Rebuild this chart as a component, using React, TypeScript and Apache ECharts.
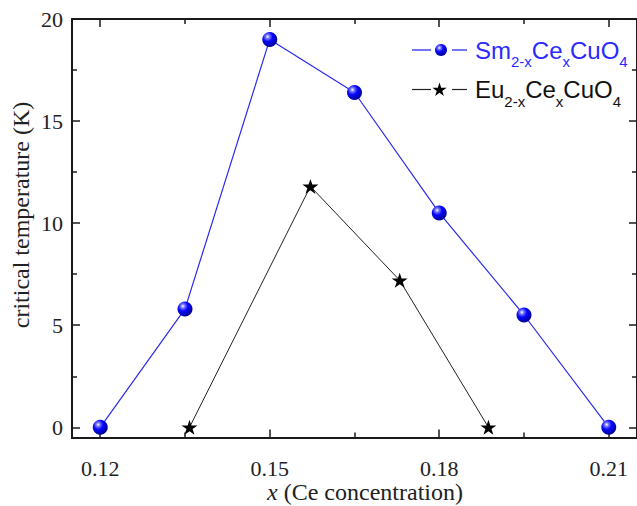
import React, { useEffect, useRef } from 'react';
import * as echarts from 'echarts';

const smX = [0.12, 0.135, 0.15, 0.165, 0.18, 0.195, 0.21];
const smTc = [0, 5.8, 19.0, 16.4, 10.5, 5.5, 0];
const euX = [0.1358, 0.1572, 0.173, 0.1887];
const euTc = [0, 11.8, 7.2, 0];
const xMajorTicks = [0.12, 0.15, 0.18, 0.21];
const xMinorTicks = [0.135, 0.165, 0.195];
const yMajorTicks = [0, 5, 10, 15, 20];
const yMinorTicks = [2.5, 7.5, 12.5, 17.5];
const xRange = [0.115, 0.215];
const yRange = [-0.5, 20];
const xTitle = ' (Ce concentration)';
const yTitle = 'critical temperature (K)';

const STAR =
  'path://M50,0 L61.2,34.5 L97.6,34.5 L68.2,55.9 L79.4,90.5 L50,69.1 L20.6,90.5 L31.8,55.9 L2.4,34.5 L38.8,34.5 Z';

const AX = '#1a1a1a';
const BLUE_LINE = '#2a2aee';
const SERIF = 'Liberation Serif';
const SANS = 'Liberation Sans';

function sphereGrad() {
  return new echarts.graphic.RadialGradient(0.36, 0.32, 0.72, [
    { offset: 0, color: '#ffffff' },
    { offset: 0.18, color: '#7a7aff' },
    { offset: 0.45, color: '#0808ff' },
    { offset: 1, color: '#00008c' },
  ]);
}

function starPoints(cx: number, cy: number, R: number) {
  const pts: number[][] = [];
  const r = R * 0.382;
  for (let i = 0; i < 10; i++) {
    const a = -Math.PI / 2 + (i * Math.PI) / 5;
    const rr = i % 2 === 0 ? R : r;
    pts.push([cx + rr * Math.cos(a), cy + rr * Math.sin(a)]);
  }
  return pts;
}

function xAx(position: string, ticks: number[], len: number, labels: boolean) {
  return {
    type: 'value',
    position,
    min: xRange[0],
    max: xRange[1],
    axisLine: { show: true, onZero: false, lineStyle: { color: AX, width: 2 } },
    axisTick: {
      show: true,
      inside: true,
      length: len,
      customValues: ticks,
      lineStyle: { color: AX, width: 1.5 },
    },
    axisLabel: labels
      ? {
          show: true,
          customValues: ticks,
          margin: 20,
          fontFamily: SERIF,
          fontSize: 22,
          color: '#222',
          formatter: (v: number) => v.toFixed(2),
        }
      : { show: false },
    splitLine: { show: false },
  };
}

function yAx(position: string, ticks: number[], len: number, labels: boolean) {
  return {
    type: 'value',
    position,
    min: yRange[0],
    max: yRange[1],
    axisLine: { show: true, onZero: false, lineStyle: { color: AX, width: 2 } },
    axisTick: {
      show: true,
      inside: true,
      length: len,
      customValues: ticks,
      lineStyle: { color: AX, width: 1.5 },
    },
    axisLabel: labels
      ? {
          show: true,
          customValues: ticks,
          margin: 9,
          fontFamily: SERIF,
          fontSize: 22,
          color: '#222',
          formatter: (v: number) => String(v),
        }
      : { show: false },
    splitLine: { show: false },
  };
}

function legendText(y: number, color: string, a: string) {
  return {
    type: 'text',
    x: 475,
    y,
    style: {
      text: `{n|${a}}{s|2-x}{n|Ce}{s|x}{n|CuO}{s|4}`,
      verticalAlign: 'middle',
      align: 'left',
      rich: {
        n: { fontSize: 24, fontFamily: SANS, lineHeight: 38, fill: color },
        s: { fontSize: 15, fontFamily: SANS, lineHeight: 13, verticalAlign: 'bottom', fill: color },
      },
    },
  };
}

export default function App() {
  const ref = useRef<HTMLDivElement>(null);
  useEffect(() => {
    document.body.style.margin = '0';
    if (!ref.current) return;
    const chart = echarts.init(ref.current, null, { renderer: 'svg' });
    const smData = smX.map((x, i) => [x, smTc[i]]);
    const euData = euX.map((x, i) => [x, euTc[i]]);
    chart.setOption({
      animation: false,
      backgroundColor: '#ffffff',
      grid: { left: 72, top: 19, width: 569, height: 418.5, containLabel: false },
      xAxis: [
        xAx('bottom', xMajorTicks, 8, true),
        xAx('bottom', xMinorTicks, 5, false),
        xAx('top', xMajorTicks, 8, false),
        xAx('top', xMinorTicks, 5, false),
      ],
      yAxis: [
        yAx('left', yMajorTicks, 8, true),
        yAx('left', yMinorTicks, 5, false),
        yAx('right', yMajorTicks, 8, false),
        yAx('right', yMinorTicks, 5, false),
      ],
      series: [
        {
          name: 'Sm',
          type: 'line',
          data: smData,
          symbol: 'circle',
          symbolSize: 15,
          lineStyle: { color: BLUE_LINE, width: 1.2 },
          itemStyle: { color: sphereGrad() },
          z: 3,
        },
        {
          name: 'Eu',
          type: 'line',
          data: euData,
          symbol: STAR,
          symbolSize: [16, 15],
          lineStyle: { color: '#222', width: 1 },
          itemStyle: { color: '#000' },
          z: 3,
        },
      ],
      graphic: [
        { type: 'line', shape: { x1: 412, y1: 50, x2: 431, y2: 50 }, style: { stroke: BLUE_LINE, lineWidth: 1.3 } },
        { type: 'line', shape: { x1: 452, y1: 50, x2: 467, y2: 50 }, style: { stroke: BLUE_LINE, lineWidth: 1.3 } },
        { type: 'circle', shape: { cx: 441, cy: 50, r: 6 }, style: { fill: sphereGrad() } },
        legendText(50, '#2a2aff', 'Sm'),
        { type: 'line', shape: { x1: 412, y1: 89.5, x2: 431, y2: 89.5 }, style: { stroke: '#222', lineWidth: 1.2 } },
        { type: 'line', shape: { x1: 452, y1: 89.5, x2: 467, y2: 89.5 }, style: { stroke: '#222', lineWidth: 1.2 } },
        { type: 'polygon', shape: { points: starPoints(439.5, 90, 7.5) }, style: { fill: '#000' } },
        legendText(89.5, '#111', 'Eu'),
        {
          type: 'text',
          x: 21,
          y: 215,
          rotation: Math.PI / 2,
          style: {
            text: yTitle,
            fontFamily: SERIF,
            fontSize: 24,
            fill: '#222',
            align: 'center',
            verticalAlign: 'middle',
          },
        },
        {
          type: 'text',
          x: 365,
          y: 492,
          style: {
            text: `{i|x}{n|${xTitle}}`,
            align: 'center',
            verticalAlign: 'middle',
            rich: {
              i: { fontSize: 24, fontFamily: SERIF, fontStyle: 'italic', fill: '#222' },
              n: { fontSize: 24, fontFamily: SERIF, fill: '#222' },
            },
          },
        },
      ],
    });
    return () => chart.dispose();
  }, []);
  return <div ref={ref} style={{ width: 637, height: 506 }} />;
}
